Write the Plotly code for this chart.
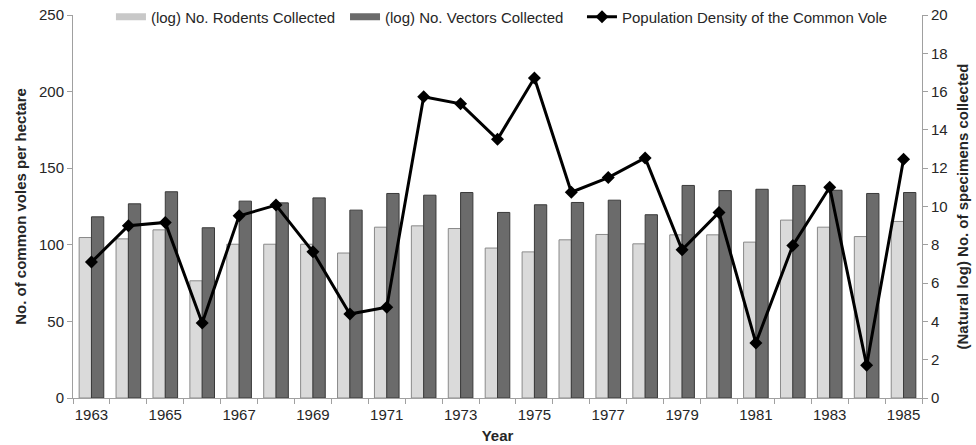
import plotly.graph_objects as go

years = list(range(1963, 1986))
rodents_log = [8.38, 8.31, 8.78, 6.12, 8.03, 8.03, 8.03, 7.57, 8.92, 8.99, 8.85, 7.83,
               7.63, 8.26, 8.54, 8.05, 8.52, 8.52, 8.14, 9.29, 8.92, 8.43, 9.22]
vectors_log = [9.46, 10.14, 10.77, 8.89, 10.28, 10.19, 10.45, 9.81, 10.68, 10.59, 10.73, 9.69,
               10.09, 10.21, 10.33, 9.57, 11.10, 10.83, 10.90, 11.10, 10.85, 10.68, 10.73]
vole_density = [88.7, 112.4, 114.6, 48.9, 118.9, 125.9, 95.4, 54.8, 59.3, 196.7, 192.0, 168.9,
                208.9, 134.3, 143.9, 156.7, 96.7, 121.1, 35.9, 99.6, 137.6, 21.3, 155.9]
tick_years = [1963, 1965, 1967, 1969, 1971, 1973, 1975, 1977, 1979, 1981, 1983, 1985]

FONT = "Liberation Sans, Arial, sans-serif"
TXT = "#262626"
LIGHT, LIGHT_EDGE = "#dadada", "#8a8a8a"
DARK, DARK_EDGE = "#6b6b6b", "#3a3a3a"
AXC = "#a0a0a0"

fig = go.Figure()
fig.add_trace(go.Bar(
    x=years, y=rodents_log, name="(log) No. Rodents Collected",
    marker=dict(color=LIGHT, line=dict(color=LIGHT_EDGE, width=1)),
    yaxis="y", offsetgroup="a", showlegend=False, legendgroup="r"))
fig.add_trace(go.Bar(
    x=years, y=vectors_log, name="(log) No. Vectors Collected",
    marker=dict(color=DARK, line=dict(color=DARK_EDGE, width=1)),
    yaxis="y", offsetgroup="b", showlegend=False, legendgroup="v"))
# legend-only entries with wide bar-like swatches
fig.add_trace(go.Scatter(
    x=[None], y=[None], name="(log) No. Rodents Collected", mode="lines",
    line=dict(color="#c8c8c8", width=7), legend="legend", legendgroup="r"))
fig.add_trace(go.Scatter(
    x=[None], y=[None], name="(log) No. Vectors Collected", mode="lines",
    line=dict(color=DARK, width=7), legend="legend2", legendgroup="v"))
fig.add_trace(go.Scatter(
    x=years, y=vole_density, name="Population Density of the Common Vole",
    mode="lines+markers",
    line=dict(color="black", width=3),
    marker=dict(symbol="diamond", size=10, color="black"),
    yaxis="y2", legend="legend3"))

leg = dict(orientation="h", y=0.995, yanchor="middle", xanchor="left",
           font=dict(size=15, color=TXT), bgcolor="rgba(0,0,0,0)")

fig.update_layout(
    width=976, height=445,
    margin=dict(l=73, r=54, t=15, b=47, autoexpand=False),
    paper_bgcolor="white", plot_bgcolor="white",
    font=dict(family=FONT, color=TXT, size=15),
    barmode="group", bargap=0.333, bargroupgap=0,
    showlegend=True,
    legend=dict(leg, x=0.0447),
    legend2=dict(leg, x=0.3204),
    legend3=dict(leg, x=0.5995),
    xaxis=dict(
        range=[1962.5, 1985.5], tickmode="array", tickvals=tick_years,
        ticktext=[str(y) for y in tick_years], ticks="outside", ticklen=3,
        tickcolor="rgba(0,0,0,0)",
        showline=True, linecolor=AXC, linewidth=1, showgrid=False, zeroline=False,
        minor=dict(ticks="outside", tick0=1962.5, dtick=1, ticklen=5, tickcolor=AXC),
        title=dict(text="<b>Year</b>", font=dict(size=15), standoff=8),
        tickfont=dict(size=15), automargin=False, ticklabeloverflow="allow",
    ),
    yaxis=dict(
        side="right", range=[0, 20], dtick=2, ticks="outside", ticklen=5,
        tickcolor=AXC, showline=True, linecolor=AXC, showgrid=False,
        zeroline=False,
        title=dict(text="<b>(Natural log) No. of specimens collected</b>", font=dict(size=15),
                   standoff=10),
        tickfont=dict(size=15), automargin=False, ticklabeloverflow="allow",
    ),
    yaxis2=dict(
        side="left", overlaying="y", range=[0, 250], dtick=50, ticks="outside", ticklen=5,
        tickcolor=AXC, showline=True, linecolor=AXC, showgrid=False,
        zeroline=False,
        title=dict(text="<b>No. of common voles per hectare</b>", font=dict(size=15),
                   standoff=8),
        tickfont=dict(size=15), automargin=False, ticklabeloverflow="allow",
    ),
)

# remove the browser's default 8px body margin so the figure fills the window exactly
fig.write_html("out.html", config={"displayModeBar": False},
               post_script="document.body.style.margin='0px';")
